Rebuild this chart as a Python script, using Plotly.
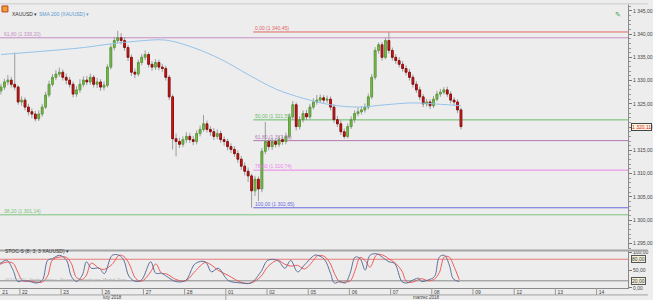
import plotly.graph_objects as go

# ---------------- data ----------------
opens = [1327.8, 1328.6, 1329.7, 1330.1, 1329.2, 1328.6, 1325.4, 1325.8, 1324.3, 1323.3,
 1322.8, 1321.8, 1322.8, 1324.3, 1326.9, 1329.2, 1330.7, 1331.4, 1331.8, 1330.7,
 1330.1, 1329.2, 1327.1, 1328.0, 1329.2, 1330.1, 1329.7, 1330.7, 1329.2, 1329.7,
 1328.6, 1329.0, 1332.9, 1337.1, 1338.6, 1339.2, 1338.6, 1337.1, 1335.0, 1331.8,
 1331.4, 1333.9, 1335.0, 1335.6, 1333.5, 1332.9, 1333.9, 1332.9, 1332.6, 1330.7,
 1326.5, 1317.5, 1316.9, 1316.3, 1317.3, 1318.0, 1317.3, 1316.9, 1318.6, 1319.5,
 1320.7, 1319.5, 1319.0, 1318.0, 1318.6, 1317.3, 1316.9, 1315.8, 1315.2, 1314.3,
 1313.1, 1311.6, 1310.5, 1309.5, 1306.3, 1308.8, 1306.7, 1314.8, 1316.9, 1315.8,
 1316.9, 1316.3, 1317.3, 1316.9, 1318.0, 1322.2, 1324.8, 1320.1, 1321.6, 1322.9,
 1322.2, 1324.3, 1325.4, 1325.8, 1326.3, 1325.8, 1326.0, 1324.3, 1321.6, 1320.7,
 1319.0, 1318.0, 1320.1, 1321.6, 1322.9, 1323.3, 1323.7, 1324.3, 1326.5, 1330.7,
 1336.5, 1337.7, 1335.0, 1338.6, 1336.5, 1335.0, 1334.3, 1333.5, 1332.6, 1331.8,
 1330.7, 1329.2, 1328.0, 1326.5, 1325.0, 1325.4, 1324.6, 1326.0, 1327.1, 1327.5,
 1328.0, 1327.1, 1325.8, 1325.4, 1323.7]
highs = [1329.3, 1330.4, 1331.2, 1330.8, 1336.0, 1329.0, 1326.6, 1326.4, 1325.0, 1324.0,
 1323.5, 1323.6, 1325.0, 1327.6, 1330.0, 1331.4, 1332.3, 1332.8, 1332.4, 1331.5,
 1330.8, 1329.8, 1328.8, 1330.3, 1330.9, 1331.0, 1331.5, 1331.2, 1330.6, 1330.3,
 1329.8, 1333.5, 1337.8, 1339.4, 1340.7, 1340.2, 1339.3, 1337.7, 1335.6, 1332.6,
 1334.5, 1335.7, 1336.5, 1336.1, 1334.2, 1334.6, 1334.5, 1333.6, 1333.2, 1331.2,
 1327.0, 1318.6, 1317.7, 1318.0, 1318.9, 1318.7, 1318.1, 1319.3, 1320.3, 1322.6,
 1321.4, 1320.2, 1319.8, 1319.5, 1319.2, 1318.0, 1317.5, 1316.5, 1315.9, 1315.0,
 1313.8, 1312.4, 1311.3, 1310.0, 1309.5, 1309.4, 1315.5, 1321.1, 1317.6, 1317.6,
 1317.5, 1318.1, 1318.0, 1318.8, 1322.9, 1325.6, 1325.3, 1322.3, 1323.6, 1323.7,
 1325.0, 1326.2, 1326.9, 1327.0, 1326.9, 1326.8, 1326.6, 1324.9, 1322.4, 1321.4,
 1319.7, 1320.8, 1322.3, 1323.6, 1324.2, 1324.5, 1325.1, 1327.2, 1331.4, 1337.2,
 1338.2, 1338.3, 1339.2, 1340.45, 1337.1, 1335.7, 1335.0, 1334.2, 1333.3, 1332.5,
 1331.3, 1329.9, 1328.7, 1327.1, 1326.1, 1326.0, 1326.7, 1327.8, 1328.2, 1328.6,
 1328.7, 1327.7, 1326.4, 1326.0, 1324.2]
lows = [1327.0, 1328.0, 1329.0, 1328.5, 1327.9, 1324.8, 1324.6, 1323.6, 1322.5, 1321.9,
 1321.2, 1321.3, 1322.2, 1323.9, 1326.4, 1328.7, 1330.1, 1330.8, 1330.0, 1329.2,
 1328.5, 1326.4, 1326.5, 1327.4, 1328.6, 1329.0, 1329.1, 1328.5, 1328.4, 1327.8,
 1327.9, 1328.5, 1332.4, 1336.5, 1338.0, 1337.8, 1336.4, 1334.2, 1331.0, 1330.5,
 1330.9, 1333.3, 1334.4, 1332.8, 1332.1, 1332.3, 1332.2, 1331.9, 1330.0, 1325.8,
 1315.2, 1313.7, 1315.5, 1315.7, 1316.6, 1316.6, 1316.1, 1316.3, 1318.0, 1319.0,
 1318.8, 1318.1, 1317.2, 1317.4, 1316.6, 1316.0, 1315.0, 1314.4, 1313.6, 1312.3,
 1310.8, 1309.6, 1308.2, 1302.65, 1305.2, 1304.1, 1306.0, 1314.2, 1315.0, 1315.1,
 1315.6, 1315.7, 1316.2, 1316.3, 1317.6, 1321.6, 1319.3, 1319.5, 1321.0, 1321.5,
 1321.7, 1323.8, 1324.8, 1325.2, 1325.1, 1325.2, 1323.6, 1320.9, 1320.0, 1318.3,
 1317.5, 1317.6, 1319.6, 1321.0, 1322.3, 1322.7, 1323.1, 1323.8, 1326.0, 1330.2,
 1335.8, 1334.3, 1334.6, 1335.8, 1334.3, 1333.6, 1332.8, 1331.9, 1331.1, 1330.0,
 1328.5, 1327.3, 1325.8, 1324.3, 1324.4, 1323.9, 1324.1, 1325.5, 1326.5, 1327.0,
 1326.5, 1325.1, 1324.7, 1323.0, 1319.5]
closes = [1328.6, 1329.7, 1330.1, 1329.2, 1328.6, 1325.4, 1325.8, 1324.3, 1323.3, 1322.8,
 1321.8, 1322.8, 1324.3, 1326.9, 1329.2, 1330.7, 1331.4, 1331.8, 1330.7, 1330.1,
 1329.2, 1327.1, 1328.0, 1329.2, 1330.1, 1329.7, 1330.7, 1329.2, 1329.7, 1328.6,
 1329.0, 1332.9, 1337.1, 1338.6, 1339.2, 1338.6, 1337.1, 1335.0, 1331.8, 1331.4,
 1333.9, 1335.0, 1335.6, 1333.5, 1332.9, 1333.9, 1332.9, 1332.6, 1330.7, 1326.5,
 1317.5, 1316.9, 1316.3, 1317.3, 1318.0, 1317.3, 1316.9, 1318.6, 1319.5, 1320.7,
 1319.5, 1319.0, 1318.0, 1318.6, 1317.3, 1316.9, 1315.8, 1315.2, 1314.3, 1313.1,
 1311.6, 1310.5, 1309.5, 1306.3, 1308.8, 1306.7, 1314.8, 1316.9, 1315.8, 1316.9,
 1316.3, 1317.3, 1316.9, 1318.0, 1322.2, 1324.8, 1320.1, 1321.6, 1322.9, 1322.2,
 1324.3, 1325.4, 1325.8, 1326.3, 1325.8, 1326.0, 1324.3, 1321.6, 1320.7, 1319.0,
 1318.0, 1320.1, 1321.6, 1322.9, 1323.3, 1323.7, 1324.3, 1326.5, 1330.7, 1336.5,
 1337.7, 1335.0, 1338.6, 1336.5, 1335.0, 1334.3, 1333.5, 1332.6, 1331.8, 1330.7,
 1329.2, 1328.0, 1326.5, 1325.0, 1325.4, 1324.6, 1326.0, 1327.1, 1327.5, 1328.0,
 1327.1, 1325.8, 1325.4, 1323.7, 1320.11]
candle_idx = list(range(len(closes)))
last_price = 1320.11

sma_idx = [0, 12, 24, 32, 40, 48, 56, 64, 72, 80, 88, 96, 104, 112, 120, 128, 134]
sma_vals = [1335.6, 1336.3, 1337.1, 1337.9, 1338.5, 1338.7, 1337.1, 1334.6, 1331.3,
            1328.2, 1326.2, 1324.8, 1324.3, 1324.8, 1325.2, 1324.9, 1324.6]

stoch_idx = [-0.3, 1.7, 3.5, 4.9, 6.4, 8.4, 10.4, 12.1, 13.6, 15.0, 17.1, 19.1, 20.5, 22.0, 23.7,
             24.9, 26.3, 28.6, 30.1, 32.4, 34.4, 35.8, 37.3, 39.3, 41.0, 43.6, 45.1, 46.8, 48.3,
             50.9, 53.8, 56.6, 59.5, 61.3, 63.3, 66.2, 69.9, 72.8, 75.7, 77.7, 80.6, 82.7, 84.4,
             86.4, 88.4, 91.3, 92.2, 94.2, 96.0, 97.1, 98.8, 100.3, 101.7, 103.2, 104.6, 106.1,
             107.5, 109.5, 111.6, 113.0, 114.7, 116.8, 118.2, 120.2, 121.7, 122.5, 124.6, 126.3,
             127.7, 129.2, 130.6, 131.8, 133.5]
stoch_k = [68, 77, 50, 18, 21, 18, 14, 23, 77, 82, 91, 77, 32, 18, 36, 73, 55, 55, 40, 91, 91,
           77, 32, 18, 23, 73, 41, 41, 32, 18, 21, 68, 73, 45, 55, 21, 14, 14, 45, 77, 77, 55,
           77, 45, 64, 91, 91, 80, 41, 14, 18, 14, 41, 86, 82, 50, 91, 95, 82, 73, 68, 18, 14,
           23, 27, 18, 23, 32, 86, 91, 64, 25, 18]
stoch_d = [66, 72, 69, 44, 19, 20, 16, 17, 34, 78, 86, 85, 68, 29, 24, 36, 69, 55, 52, 66, 91,
           88, 68, 26, 19, 45, 67, 41, 39, 24, 20, 47, 71, 64, 49, 35, 16, 14, 32, 59, 77, 66,
           61, 63, 53, 80, 90, 88, 67, 41, 16, 17, 19, 50, 85, 76, 58, 93, 90, 81, 71, 47, 17,
           17, 24, 26, 20, 25, 43, 87, 86, 64, 23]
stoch_levels = [80, 20]

fib_names = ["0,00", "50,00", "61,80", "78,60", "100,00"]
fib_prices = [1340.45, 1321.55, 1317.09, 1310.74, 1302.65]
fib_colors = ["#e06666", "#6aba6a", "#b07ab0", "#ee82ee", "#6a6ae0"]
fib_start = 73.5
extra_names = ["61,80", "38,20"]
extra_prices = [1339.20, 1301.14]
extra_colors = ["#c58fc5", "#7cc27c"]

day_ticks = [-0.25, 5.5, 17.5, 29.5, 41.5, 53.5, 65.5, 77.5, 89.5, 101.5, 113.5, 125.5,
             137.5, 149.5, 161.5, 173.5]
day_labels = ["21", "22", "23", "26", "27", "28", "01", "02", "05", "06", "07", "08", "09",
              "12", "13", "14"]
month_labels = ["luty 2018", "marzec 2018"]
month_break = 65.5

price_ticks = [1295, 1300, 1305, 1310, 1315, 1320, 1325, 1330, 1335, 1340, 1345]

# ---------------- layout constants ----------------
W, H = 653, 300
R_M, B_M = 20, 12
PW, PH = W - R_M, H - B_M
PX_PER = 3.46
x_range = [-0.289, -0.289 + PW / PX_PER]
BG = "#ededed"
FONT = "Liberation Sans"

def py(pix):  # pixel row -> paper y
    return (PH - pix) / PH

body_hi = [max(o, c) for o, c in zip(opens, closes)]
body_lo = [min(o, c) for o, c in zip(opens, closes)]

fig = go.Figure()

# wicks (gray)
fig.add_trace(go.Candlestick(
    x=candle_idx, open=opens, high=highs, low=lows, close=closes,
    xaxis="x2", yaxis="y",
    increasing=dict(line=dict(color="#9c9c9c", width=1), fillcolor="#9c9c9c"),
    decreasing=dict(line=dict(color="#9c9c9c", width=1), fillcolor="#9c9c9c"),
    whiskerwidth=0, showlegend=False, hoverinfo="skip"))
# bodies (coloured)
fig.add_trace(go.Candlestick(
    x=candle_idx, open=opens, high=body_hi, low=body_lo, close=closes,
    xaxis="x2", yaxis="y",
    increasing=dict(line=dict(color="#5f9f3a", width=1), fillcolor="#82c253"),
    decreasing=dict(line=dict(color="#8e1010", width=1), fillcolor="#e81414"),
    whiskerwidth=0, showlegend=False, hoverinfo="skip"))

fig.add_trace(go.Scatter(x=sma_idx, y=sma_vals, xaxis="x2", yaxis="y", mode="lines",
                         line=dict(color="#94c2ea", width=1, shape="spline"),
                         showlegend=False, hoverinfo="skip"))

fig.add_trace(go.Scatter(x=stoch_idx, y=stoch_d, xaxis="x", yaxis="y2", mode="lines",
                         line=dict(color="#ee5a5a", width=1, shape="spline"),
                         showlegend=False, hoverinfo="skip"))
fig.add_trace(go.Scatter(x=stoch_idx, y=stoch_k, xaxis="x", yaxis="y2", mode="lines",
                         line=dict(color="#5f7099", width=1, shape="spline"),
                         showlegend=False, hoverinfo="skip"))

shapes = []
annos = []

def fmt(v):
    return f"{v:,.2f}".replace(",", " ").replace(".", ",")

# fib lines (partial, from fib start to right edge)
for name, p, c in zip(fib_names, fib_prices, fib_colors):
    shapes.append(dict(type="line", xref="x2", yref="y", x0=fib_start, x1=x_range[1],
                       y0=p, y1=p, line=dict(color=c, width=1), layer="below"))
    annos.append(dict(xref="x2", yref="y", x=fib_start, y=p, text=f"{name} ({fmt(p)})",
                      showarrow=False, xanchor="left", yanchor="bottom", yshift=-1,
                      font=dict(size=5, color=c, family=FONT)))
# extra full-width lines
for name, p, c in zip(extra_names, extra_prices, extra_colors):
    shapes.append(dict(type="line", xref="paper", yref="y", x0=0, x1=1, y0=p, y1=p,
                       line=dict(color=c, width=1), layer="below"))
    annos.append(dict(xref="paper", yref="y", x=0.003, y=p, text=f"{name} ({fmt(p)})",
                      showarrow=False, xanchor="left", yanchor="bottom", yshift=-1,
                      font=dict(size=5, color=c, family=FONT)))

# stochastic level lines
for lv, c in zip(stoch_levels, ["#e87c7c", "#8a8a8a"]):
    shapes.append(dict(type="line", xref="paper", yref="y2", x0=0, x1=1, y0=lv, y1=lv,
                       line=dict(color=c, width=1), layer="below"))
    annos.append(dict(xref="paper", yref="y2", x=1.004, y=lv, text=f"{lv},00",
                      showarrow=False, xanchor="left", font=dict(size=5, color="#333", family=FONT),
                      bgcolor="#f4f1d8", bordercolor="#555", borderwidth=1, borderpad=0))

# panel separator band
shapes.append(dict(type="rect", xref="paper", yref="paper", x0=0, x1=W / PW,
                   y0=py(251), y1=py(249), fillcolor="#a4a4a4", line=dict(width=0)))
# top strip
shapes.append(dict(type="rect", xref="paper", yref="paper", x0=0, x1=W / PW,
                   y0=py(1.5), y1=py(0), fillcolor="#d6d6d6", line=dict(width=0)))

# date axis rows
for t in day_ticks[1:]:
    shapes.append(dict(type="line", xref="x", yref="paper", x0=t, x1=t, y0=0, y1=py(295),
                       line=dict(color="#9a9a9a", width=1)))
shapes.append(dict(type="line", xref="paper", yref="paper", x0=0, x1=W / PW,
                   y0=py(295), y1=py(295), line=dict(color="#a0a0a0", width=1)))
shapes.append(dict(type="line", xref="x", yref="paper", x0=month_break, x1=month_break,
                   y0=py(295), y1=py(300), line=dict(color="#a0a0a0", width=1)))
for lab, xc in zip(month_labels, [(x_range[0] + month_break) / 2, (month_break + x_range[1]) / 2]):
    annos.append(dict(xref="x", yref="paper", x=xc, y=py(297.8), text=lab, showarrow=False,
                      yanchor="middle", font=dict(size=4.5, color="#444", family=FONT)))

# current price box
annos.append(dict(xref="paper", yref="y", x=1.004, y=last_price, text=fmt(last_price),
                  showarrow=False, xanchor="left", font=dict(size=5, color="#d02020", family=FONT),
                  bgcolor="#fff6e0", bordercolor="#444", borderwidth=1, borderpad=0))

# headers
shapes.append(dict(type="rect", xref="paper", yref="paper", x0=2 / PW, x1=8 / PW,
                   y0=py(9), y1=py(3), fillcolor="#f0a030", line=dict(color="#c04020", width=1)))
annos.append(dict(xref="paper", yref="paper", x=10 / PW, y=py(6), text="XAUUSD ▾",
                  showarrow=False, xanchor="left", font=dict(size=5, color="#333", family=FONT)))
annos.append(dict(xref="paper", yref="paper", x=37 / PW, y=py(6), text="SMA 200 (XAUUSD) ▾",
                  showarrow=False, xanchor="left", font=dict(size=5, color="#5a9ad0", family=FONT)))
annos.append(dict(xref="paper", yref="paper", x=618 / PW, y=py(6), text="✎",
                  showarrow=False, xanchor="left", font=dict(size=7, color="#3aa040", family=FONT)))
annos.append(dict(xref="paper", yref="paper", x=3 / PW, y=py(256), text="STOC-S (8; 3; 3 XAUUSD) ▾",
                  showarrow=False, xanchor="left", font=dict(size=5, color="#333", family=FONT)))
annos.append(dict(xref="paper", yref="paper", x=3 / PW, y=py(283.5),
                  text="GOLD CFD · Single currency · Brussels, Copenhagen, Madrid, Paris",
                  showarrow=False, xanchor="left", font=dict(size=4, color="#b0b0b0", family=FONT)))

fig.update_layout(
    width=W, height=H, margin=dict(l=0, r=R_M, t=0, b=B_M),
    paper_bgcolor=BG, plot_bgcolor=BG, separators=", ",
    font=dict(family=FONT, size=5, color="#444"),
    showlegend=False, hovermode=False,
    shapes=shapes, annotations=annos,
    xaxis=dict(domain=[0, 1], anchor="y2", range=x_range, showgrid=False, zeroline=False,
               tickmode="array", tickvals=day_ticks, ticktext=day_labels, ticks="",
               ticklabelshift=5, ticklabelstandoff=-1, tickfont=dict(size=5, color="#444"),
               tickangle=0, showline=True, linecolor="#8a8a8a", linewidth=1,
               rangeslider=dict(visible=False), fixedrange=True),
    xaxis2=dict(domain=[0, 1], anchor="y", matches="x", range=x_range, showgrid=False,
                zeroline=False, showticklabels=False, ticks="",
                rangeslider=dict(visible=False)),
    yaxis=dict(domain=[py(249), 1], anchor="x2", side="right",
               range=[1293.7, 1346.68], showgrid=False, zeroline=False,
               tickmode="array", tickvals=price_ticks, tickformat=",.2f",
               ticks="outside", ticklen=3, tickcolor="#777", tickfont=dict(size=5, color="#444"),
               minor=dict(dtick=1, tick0=0, ticks="outside", ticklen=1.5, tickcolor="#999"),
               showline=True, linecolor="#8a8a8a", linewidth=1),
    yaxis2=dict(domain=[0, py(251)], anchor="x", side="right", range=[0, 101.9],
                showgrid=False, zeroline=False, tickmode="array", tickvals=[0, 50, 100],
                tickformat=",.2f", ticks="outside", ticklen=3, tickcolor="#777",
                tickfont=dict(size=5, color="#444"),
                showline=True, linecolor="#8a8a8a", linewidth=1),
)

fig.write_html("out.html")
